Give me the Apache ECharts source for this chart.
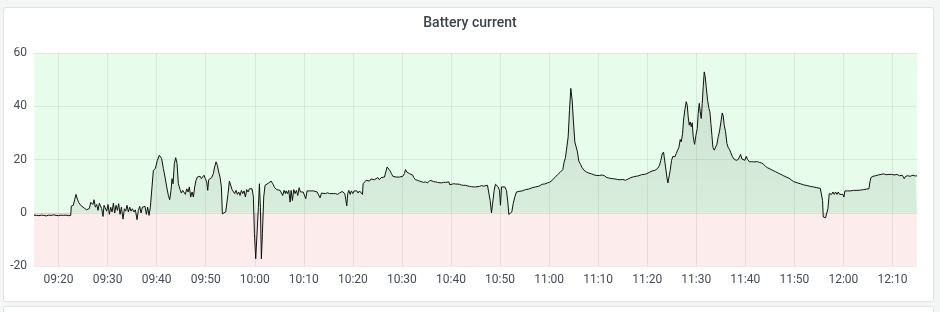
<!DOCTYPE html>
<html>
<head>
<meta charset="utf-8">
<script src="https://cdn.jsdelivr.net/npm/echarts@6/dist/echarts.min.js"></script>
<style>
  html, body { margin: 0; padding: 0; background: #f4f5f5; width: 940px; height: 312px; overflow: hidden; }
  .panel { position: absolute; left: 3px; top: 7px; width: 929px; height: 293px; background: #fff; border: 1px solid #dfe1e4; border-radius: 3px; }
  .panel2 { position: absolute; left: 3px; top: 306px; width: 929px; height: 20px; background: #fff; border: 1px solid #dfe1e4; border-radius: 3px; }
  #chart { position: absolute; left: 0; top: 0; width: 940px; height: 312px; }
</style>
</head>
<body>
<div class="panel"></div>
<div class="panel2"></div>
<div id="chart"></div>
<script>
// minutes after 09:00
const timeMin = [
  15.0,15.5,16.0,16.5,17.0,17.5,18.0,18.5,19.0,19.5,20.0,20.5,21.0,21.5,22.0,22.48,
  22.61,23.02,23.29,23.56,23.84,24.11,24.52,24.92,25.33,25.74,26.01,26.28,26.56,26.83,27.03,27.23,27.51,27.78,28.05,28.32,
  28.59,28.80,29.07,29.27,29.55,29.82,30.09,30.36,30.63,30.91,31.18,31.45,31.72,32.00,32.26,32.54,32.81,33.15,33.42,33.69,
  33.96,34.24,34.51,34.78,35.05,35.39,35.66,36.00,36.27,36.55,36.82,37.09,37.36,37.63,37.91,38.18,38.45,38.72,38.99,
  39.33,39.74,40.15,40.56,
  41.03,41.37,41.71,42.05,42.39,42.66,42.93,43.14,43.34,43.61,43.88,44.16,44.43,44.77,45.04,45.31,45.58,45.86,46.13,46.40,
  46.67,46.94,47.22,47.49,47.76,48.03,48.30,48.57,48.85,49.12,49.39,49.66,49.93,50.21,50.41,50.61,50.88,51.22,51.56,51.83,
  52.11,52.38,52.65,52.92,53.20,53.40,53.74,54.08,54.28,54.56,54.83,55.10,55.37,55.64,55.91,56.19,56.46,56.73,57.00,57.28,
  57.55,57.82,58.09,58.36,58.64,58.91,59.18,59.45,59.72,59.93,60.20,60.47,60.74,60.95,61.15,61.35,61.56,61.83,62.10,62.44,
  62.85,63.33,63.67,64.07,64.48,64.82,65.16,65.43,65.70,65.97,66.25,
  66.39,66.66,66.93,67.21,67.41,67.68,67.95,68.23,68.50,68.77,69.04,69.31,69.58,69.86,70.13,70.40,70.67,71.01,71.35,71.69,
  72.03,72.37,72.71,73.05,73.32,73.60,74.00,74.41,74.82,75.23,75.63,76.04,76.45,76.86,77.27,77.54,77.81,78.08,78.35,78.56,
  78.76,78.96,79.17,79.44,79.71,79.98,80.26,80.53,80.80,81.07,81.35,81.68,81.96,82.09,82.36,82.70,83.04,83.38,83.72,84.06,
  84.40,84.74,85.08,85.42,85.76,86.10,86.44,86.71,86.99,87.33,87.60,87.87,88.14,88.48,88.82,89.16,89.50,89.84,90.18,90.52,
  90.72,90.99,91.27,91.54,91.88,92.22,
  92.42,92.76,93.17,93.58,93.98,94.39,94.80,95.21,95.48,95.75,96.02,96.43,96.84,97.25,97.65,98.06,98.47,98.88,99.22,99.56,
  99.76,100.10,100.51,100.92,101.32,101.73,102.14,102.55,102.96,103.36,103.77,104.18,104.59,105.00,105.40,105.81,106.22,106.63,107.03,107.44,
  107.71,107.99,108.26,108.53,108.80,109.07,109.34,109.62,109.89,110.09,110.30,110.57,110.98,111.32,111.59,111.79,112.13,112.40,112.68,113.01,
  113.35,113.83,114.51,115.19,115.87,116.55,117.23,
  117.77,118.18,118.59,119.13,119.67,120.15,120.62,121.17,121.71,122.26,122.80,123.07,123.34,123.62,123.89,124.16,124.43,124.70,124.97,125.25,
  125.52,125.79,126.06,126.40,126.74,127.15,127.63,128.10,128.65,129.19,129.73,130.28,130.82,131.36,131.77,132.32,132.86,133.40,133.95,134.49,
  135.03,135.58,136.12,136.67,137.21,137.75,138.30,138.84,139.39,139.93,140.47,141.02,141.56,142.10,142.51,142.78,143.06,143.33,
  143.47,143.74,144.01,144.22,144.42,144.69,144.97,145.24,145.65,145.92,146.19,146.46,146.73,146.94,147.21,147.41,147.68,147.96,148.16,148.36,
  148.57,148.77,148.98,149.18,149.38,149.66,149.93,150.20,150.40,150.61,150.81,151.02,151.22,151.42,151.63,151.83,152.03,152.31,152.58,152.78,
  152.99,153.19,153.40,153.67,153.94,154.21,154.48,154.75,155.03,155.30,155.50,155.70,155.98,156.25,156.52,156.79,157.06,157.40,157.74,158.15,
  158.56,158.83,159.04,159.31,159.65,159.92,160.19,160.46,160.87,161.28,161.69,162.09,162.50,162.91,163.32,163.73,164.13,164.54,165.09,165.63,
  166.17,166.72,167.26,167.80,168.35,168.89,
  169.16,169.84,170.52,171.20,171.88,172.56,173.24,173.92,174.60,175.28,175.62,175.75,175.89,176.16,176.36,176.57,176.84,177.11,177.32,177.59,
  177.86,178.13,178.40,178.68,178.95,179.22,179.49,179.90,180.10,180.31,180.85,181.39,182.07,182.75,183.43,184.11,184.79,185.20,185.41,185.61,
  186.02,186.56,187.11,187.65,188.19,188.74,189.28,189.82,190.37,190.91,191.45,192.00,192.41,192.68,193.09,193.63,194.18,194.65,195.00
];
// battery current, A
const current = [
  -0.9,-1.0,-1.1,-0.9,-1.0,-1.2,-0.9,-1.0,-0.8,-1.0,-1.1,-0.9,-1.0,-0.9,-1.1,-1.0,
  2.5,2.8,4.9,6.9,5.1,3.9,2.8,2.1,1.6,1.1,0.5,1.6,3.9,4.4,3.1,4.9,2.1,3.1,0.9,3.6,
  4.0,1.5,-1.4,2.8,3.4,0.6,3.1,-0.6,2.1,0.3,3.6,-0.1,2.8,0.9,3.4,-0.6,2.1,-2.4,1.5,0.6,
  2.8,0.3,2.1,0.6,1.5,0.3,1.1,-2.6,0.9,2.4,-0.1,2.1,1.5,2.4,-0.6,2.1,-1.0,2.1,2.8,
  15.9,16.6,19.7,21.6,
  20.3,16.6,13.4,9.7,6.5,4.9,8.4,12.8,10.9,18.5,20.7,18.5,10.9,8.7,7.4,8.4,7.8,6.9,9.0,7.8,
  9.7,5.9,7.8,5.9,9.7,12.2,13.4,12.8,13.7,12.8,13.4,14.1,12.8,11.6,8.4,12.4,12.8,13.2,14.7,17.2,
  19.1,17.8,15.3,13.4,9.7,-0.4,0.3,0.3,0.9,7.2,11.9,11.2,8.7,9.0,7.2,8.4,6.9,7.8,6.5,8.4,
  7.2,8.2,5.9,8.7,7.8,9.0,8.4,9.0,5.9,-7.9,-17.3,-17.3,2.1,10.9,2.1,-17.3,-7.9,5.9,10.3,10.9,
  11.2,11.9,10.9,9.4,8.7,9.0,8.4,8.2,6.5,8.4,7.2,
  8.2,7.2,8.4,4.0,8.4,4.6,8.7,7.2,8.4,6.5,9.4,7.8,8.2,7.8,8.0,5.3,8.2,7.8,8.2,7.8,
  8.2,7.7,7.8,7.2,5.6,7.4,7.4,7.2,7.5,7.2,7.4,7.2,7.2,6.9,7.4,7.8,8.0,7.8,7.2,4.9,
  2.6,7.2,8.4,6.9,8.2,7.2,8.2,7.8,8.2,7.4,8.2,7.8,6.9,10.9,11.6,12.2,12.4,11.9,12.7,12.2,
  12.4,11.9,13.2,12.4,13.2,12.8,13.4,15.3,17.2,16.9,15.7,14.7,13.7,13.2,13.4,13.2,13.4,13.2,13.7,14.7,
  16.2,15.3,14.9,14.7,14.9,14.1,
  13.2,12.4,12.2,11.9,11.6,11.4,11.6,11.2,11.4,12.2,11.6,11.7,11.6,11.4,11.6,11.2,11.4,11.4,11.9,11.6,
  10.5,10.9,10.9,10.8,10.5,10.7,10.4,10.3,10.3,10.2,9.9,9.8,9.7,9.7,9.9,9.9,10.2,10.0,10.2,10.3,
  9.7,4.6,-0.1,0.3,8.4,10.7,11.2,9.7,8.4,2.8,9.7,10.3,9.7,8.4,4.0,-0.6,-0.4,0.3,3.4,5.9,
  7.8,8.0,8.2,8.7,8.9,9.4,9.7,
  9.9,10.2,10.7,10.8,11.2,11.5,12.2,13.2,14.3,15.2,16.2,19.1,20.7,20.9,28.5,38.5,46.7,42.3,34.1,26.6,
  26.0,22.8,19.4,18.2,16.9,15.9,15.3,14.9,14.6,14.2,14.0,14.0,14.2,13.8,13.2,13.0,12.8,12.7,12.5,12.4,
  12.5,12.2,12.7,13.2,13.5,13.7,13.9,14.3,14.4,14.7,15.2,15.7,15.9,16.6,17.8,19.7,22.0,22.8,
  21.0,17.2,13.4,11.2,10.9,15.9,19.7,21.2,21.0,22.2,23.5,24.5,27.5,26.6,29.7,34.8,38.8,41.7,40.4,36.0,
  32.9,34.1,32.3,33.8,28.5,25.7,29.1,31.6,37.3,41.1,37.9,35.4,41.1,47.3,52.9,51.1,47.3,42.3,39.2,37.9,
  33.5,29.1,24.5,23.5,23.7,25.7,28.5,30.7,34.1,37.5,36.3,32.9,30.4,26.0,24.5,23.7,22.5,21.0,20.1,19.7,
  20.0,20.3,21.9,20.2,19.7,19.7,21.2,20.0,19.1,19.2,19.1,19.3,19.2,18.9,18.7,18.2,17.4,16.9,16.4,15.9,
  15.4,14.9,14.4,13.9,13.4,13.0,
  12.4,11.7,11.3,10.9,10.5,10.2,9.9,9.7,9.4,9.2,9.0,4.6,-1.6,-1.4,-1.9,-2.6,1.5,7.2,7.8,6.9,
  7.8,6.9,7.8,6.9,7.8,6.9,7.4,6.9,5.9,8.2,8.2,8.2,8.4,8.4,8.5,8.7,8.9,9.0,11.6,13.2,
  13.7,13.9,14.2,14.4,14.6,14.3,14.4,14.4,14.2,14.4,13.9,14.1,12.8,13.7,13.9,13.7,14.1,13.8,13.9
];
const timeTicks = ['09:20','09:30','09:40','09:50','10:00','10:10','10:20','10:30','10:40','10:50',
                   '11:00','11:10','11:20','11:30','11:40','11:50','12:00','12:10'];
const yTicks = [-20, 0, 20, 40, 60];
const xRange = ['09:15', '12:15'];
const title = 'Battery current';

function toMin(s) { const p = s.split(':'); return (+p[0] - 9) * 60 + (+p[1]); }
function fmt(v) {
  const h = 9 + Math.floor(v / 60), m = Math.round(v % 60);
  return String(h).padStart(2, '0') + ':' + String(m).padStart(2, '0');
}
const tickVals = timeTicks.map(toMin);
const seriesData = timeMin.map((t, i) => [t, current[i]]);

const chart = echarts.init(document.getElementById('chart'), null, { renderer: 'canvas' });
const font = 'Roboto, Inter, "Noto Sans", sans-serif';
chart.setOption({
  animation: false,
  title: {
    text: title, left: 'center', top: 11,
    textStyle: { fontFamily: font, fontSize: 14, fontWeight: 500, color: '#3d434b' }
  },
  grid: { left: 34, right: 23, top: 53, bottom: 46, containLabel: false },
  xAxis: {
    type: 'value',
    min: toMin(xRange[0]), max: toMin(xRange[1]),
    axisLine: { show: false },
    axisTick: { show: false, customValues: tickVals },
    axisLabel: { customValues: tickVals, formatter: fmt, color: '#464c54', fontFamily: font, fontSize: 12, margin: 8 },
    splitLine: { show: true, lineStyle: { color: 'rgba(0,0,0,0.08)', width: 1 } }
  },
  yAxis: {
    type: 'value',
    min: yTicks[0], max: yTicks[yTicks.length - 1], interval: 20,
    axisLine: { show: false },
    axisTick: { show: false },
    axisLabel: { color: '#464c54', fontFamily: font, fontSize: 12, margin: 7 },
    splitLine: { show: true, lineStyle: { color: 'rgba(0,0,0,0.08)', width: 1 } }
  },
  series: [
    {
      type: 'line', data: [], z: 1, silent: true,
      markArea: {
        silent: true,
        data: [
          [{ yAxis: 0, itemStyle: { color: 'rgba(20,225,60,0.10)' } }, { yAxis: yTicks[yTicks.length - 1] }],
          [{ yAxis: yTicks[0], itemStyle: { color: 'rgba(220,40,40,0.09)' } }, { yAxis: 0 }]
        ]
      }
    },
    {
      type: 'line', data: seriesData, z: 3,
      showSymbol: false, symbol: 'none',
      lineStyle: { color: '#111', width: 1 },
      areaStyle: {
        origin: 0,
        color: new echarts.graphic.LinearGradient(0, 0, 0, 1, [
          { offset: 0, color: 'rgba(20,40,20,0.18)' },
          { offset: 1, color: 'rgba(20,40,20,0.08)' }
        ])
      }
    }
  ]
});
</script>
</body>
</html>
